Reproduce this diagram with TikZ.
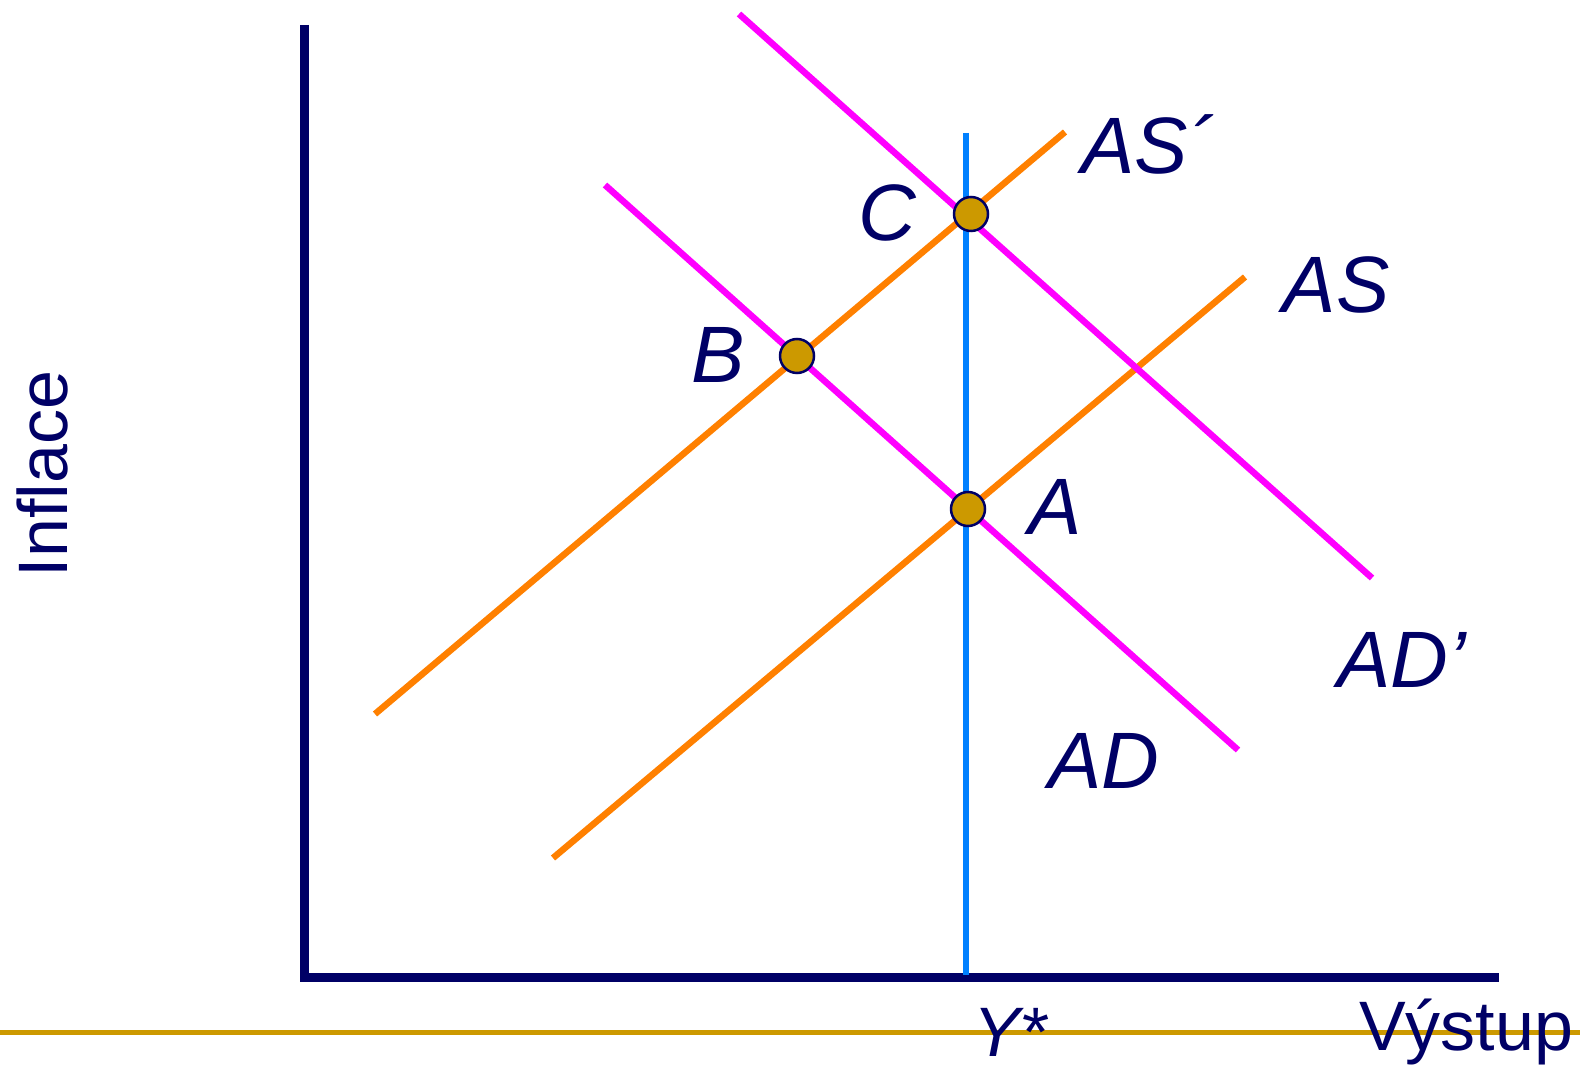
\documentclass[tikz,border=0pt]{standalone}
\usepackage{fontspec}
\setmainfont{Liberation Sans}
\begin{document}
\begin{tikzpicture}[x=1pt,y=1pt,
  axis/.style={draw=navy,line width=9pt,line join=miter},
  asline/.style={draw=asorange,line width=6.5pt},
  adline/.style={draw=admagenta,line width=6.5pt},
  eqpt/.style={circle,fill=ptgold,draw=navy,line width=2.5pt,minimum size=34pt,inner sep=0pt},
  lab/.style={text=navy,font=\fontsize{80}{80}\selectfont\itshape,inner sep=0pt},
  axlab/.style={text=navy,font=\fontsize{70}{70}\selectfont,inner sep=0pt}]
\definecolor{navy}{HTML}{000066}
\definecolor{asorange}{HTML}{FF8000}
\definecolor{admagenta}{HTML}{FF00FF}
\definecolor{ybl}{HTML}{0080FF}
\definecolor{ptgold}{HTML}{CC9900}
\useasboundingbox (0,0) rectangle (1580,1072);
% gold baseline
\coordinate (g1) at (0,40);
\coordinate (g2) at (1580,40);
\draw[ptgold,line width=5pt] (g1) -- (g2);
% axes
\coordinate (ytop) at (304,1047);
\coordinate (orig) at (304,95);
\coordinate (xend) at (1499,95);
\draw[axis] (ytop) -- (orig) -- (xend);
% potential output
\coordinate (ys1) at (966,939);
\coordinate (ys0) at (966,97);
\draw[ybl,line width=6.5pt] (ys1) -- (ys0);
% curves
\coordinate (as1) at (553,214);
\coordinate (as2) at (1245,795);
\coordinate (asp1) at (375,358);
\coordinate (asp2) at (1065,940);
\coordinate (ad1) at (605,887);
\coordinate (ad2) at (1238,322);
\coordinate (adp1) at (739,1058);
\coordinate (adp2) at (1372,494);
\draw[asline] (as1) -- (as2);
\draw[asline] (asp1) -- (asp2);
\draw[adline] (ad1) -- (ad2);
\draw[adline] (adp1) -- (adp2);
% equilibrium points
\node[eqpt] (A) at (968,563) {};
\node[eqpt] (B) at (797,716) {};
\node[eqpt] (C) at (971,858) {};
% labels
\node[lab] (lA) at (1055,565) {A};
\node[lab] (lB) at (718,717) {B};
\node[lab] (lC) at (887,859) {C};
\node[lab] (lASp) at (1148,928) {AS´};
\node[lab] (lAS) at (1336,787) {AS};
\node[lab] (lADp) at (1402,412) {AD’};
\node[lab] (lAD) at (1104,311) {AD};
\node[axlab] (lY) at (1010,40) {\itshape Y*};
\node[axlab] (lV) at (1466,40) {Výstup};
\node[axlab,rotate=90] (lI) at (42,598) {Inflace};
\end{tikzpicture}
\end{document}
